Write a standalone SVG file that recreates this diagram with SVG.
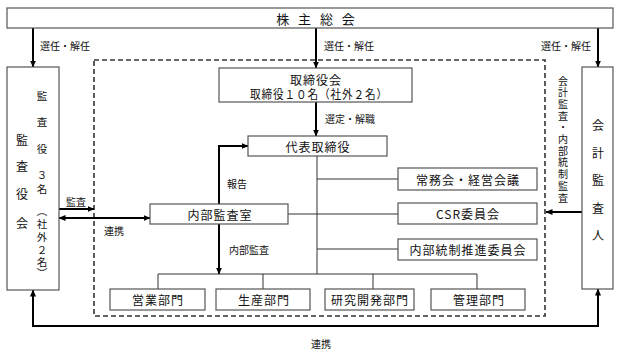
<svg xmlns="http://www.w3.org/2000/svg" width="619" height="358" viewBox="0 0 619 358">
<style>
  text { font-family: "Noto Sans CJK JP", "Noto Sans", sans-serif; fill: #111; dominant-baseline: central; }
  .box { fill: #fff; stroke: #555; stroke-width: 1.2; }
  .t { font-size: 12px; letter-spacing: 1px; text-anchor: middle; }
  .lbl { font-size: 10px; text-anchor: middle; }
  .v { font-size: 12px; text-anchor: middle; }
  .vm { font-size: 10.5px; text-anchor: middle; }
  .vs { font-size: 10px; text-anchor: middle; }
  .thick { fill: none; stroke: #000; stroke-width: 2; }
  .thin { fill: none; stroke: #333; stroke-width: 1; }
  .dash { fill: none; stroke: #333; stroke-width: 1.6; stroke-dasharray: 5 3; }
</style>
<defs>
  <marker id="ah" markerUnits="userSpaceOnUse" markerWidth="7" markerHeight="6" refX="6.5" refY="3" orient="auto-start-reverse">
    <path d="M0,0 L7,3 L0,6 z" fill="#000"/>
  </marker>
</defs>
<rect width="619" height="358" fill="#fff"/>

<g id="internal-area">
  <rect class="dash" x="94" y="60" width="451" height="256"/>
</g>

<g id="connectors">
  <path class="thick" d="M33,28 V67" marker-end="url(#ah)"/>
  <path class="thick" d="M316,28 V68" marker-end="url(#ah)"/>
  <path class="thick" d="M598,28 V67" marker-end="url(#ah)"/>
  <path class="thick" d="M316,102 V136" marker-end="url(#ah)"/>
  <path class="thick" d="M219,204 V146 H248" marker-end="url(#ah)"/>
  <path class="thick" d="M219,224 V274" marker-end="url(#ah)"/>
  <path class="thick" d="M59,209 H94" marker-end="url(#ah)"/>
  <path class="thick" d="M59,218 H150" marker-start="url(#ah)" marker-end="url(#ah)"/>
  <path class="thick" d="M582,212 H546" marker-end="url(#ah)"/>
  <path class="thick" d="M33,290 V326 H598 V289" marker-start="url(#ah)" marker-end="url(#ah)"/>
  <path class="thin" d="M317,156 V274"/>
  <path class="thin" d="M317,179 H398"/>
  <path class="thin" d="M288,214 H398"/>
  <path class="thin" d="M317,249 H398"/>
  <path class="thin" d="M158,274 H477 M158,274 V289 M263,274 V289 M373,274 V289 M477,274 V289"/>
  <text class="lbl" x="65" y="45">選任・解任</text>
  <text class="lbl" x="349" y="45">選任・解任</text>
  <text class="lbl" x="566" y="45">選任・解任</text>
  <text class="lbl" x="350" y="118">選定・解職</text>
  <text class="lbl" x="237" y="183">報告</text>
  <text class="lbl" x="249" y="249">内部監査</text>
  <text class="lbl" x="76" y="201">監査</text>
  <text class="lbl" x="114" y="230">連携</text>
  <text class="lbl" x="321" y="343">連携</text>
  <text class="vs" x="563" y="80">会</text>
  <text class="vs" x="563" y="91.7">計</text>
  <text class="vs" x="563" y="103.4">監</text>
  <text class="vs" x="563" y="115.1">査</text>
  <text class="vs" x="563" y="126.8">・</text>
  <text class="vs" x="563" y="138.5">内</text>
  <text class="vs" x="563" y="150.2">部</text>
  <text class="vs" x="563" y="161.9">統</text>
  <text class="vs" x="563" y="173.6">制</text>
  <text class="vs" x="563" y="185.3">監</text>
  <text class="vs" x="563" y="197">査</text>
</g>

<g id="shareholders">
  <rect class="box" x="7" y="8" width="606" height="20"/>
  <text x="317" y="18" font-size="13" text-anchor="middle" letter-spacing="3">株 主 総 会</text>
</g>

<g id="board">
  <rect class="box" x="219" y="68" width="193" height="34"/>
  <text class="t" x="316" y="79">取締役会</text>
  <text class="t" x="319" y="93" letter-spacing="0" textLength="138" lengthAdjust="spacingAndGlyphs">取締役１０名（社外２名）</text>
</g>

<g id="president">
  <rect class="box" x="248" y="136" width="139" height="20"/>
  <text class="t" x="318" y="146">代表取締役</text>
</g>

<g id="internal-audit">
  <rect class="box" x="150" y="204" width="138" height="20"/>
  <text class="t" x="220" y="214">内部監査室</text>
</g>

<g id="executive-meeting">
  <rect class="box" x="398" y="168" width="139" height="22"/>
  <text class="t" x="468" y="179" letter-spacing="2">常務会・経営会議</text>
</g>

<g id="csr">
  <rect class="box" x="398" y="203" width="139" height="21"/>
  <text class="t" x="468" y="213.5">CSR委員会</text>
</g>

<g id="internal-control">
  <rect class="box" x="398" y="239" width="139" height="21"/>
  <text class="t" x="468" y="249.5">内部統制推進委員会</text>
</g>

<g id="sales">
  <rect class="box" x="110" y="289" width="95" height="21"/>
  <text class="t" x="158" y="299.5">営業部門</text>
</g>
<g id="production">
  <rect class="box" x="216" y="289" width="94" height="21"/>
  <text class="t" x="264" y="299.5">生産部門</text>
</g>
<g id="rnd">
  <rect class="box" x="325" y="289" width="89" height="21"/>
  <text class="t" x="370" y="299.5">研究開発部門</text>
</g>
<g id="admin">
  <rect class="box" x="431" y="289" width="94" height="21"/>
  <text class="t" x="479" y="299.5">管理部門</text>
</g>

<g id="audit-board">
  <rect class="box" x="7" y="67" width="52" height="223"/>
  <text class="v" x="22" y="139">監</text>
  <text class="v" x="22" y="165">査</text>
  <text class="v" x="22" y="193">役</text>
  <text class="v" x="22" y="222">会</text>
  <text class="vm" x="42" y="95">監</text>
  <text class="vm" x="42" y="121">査</text>
  <text class="vm" x="42" y="148">役</text>
  <text class="vm" x="42" y="174">３</text>
  <text class="vm" x="42" y="188">名</text>
  <text class="vm" x="42" y="210">︵</text>
  <text class="vm" x="42" y="223">社</text>
  <text class="vm" x="42" y="236">外</text>
  <text class="vm" x="42" y="249">２</text>
  <text class="vm" x="42" y="261">名</text>
  <text class="vm" x="42" y="272">︶</text>
</g>

<g id="accounting-auditor">
  <rect class="box" x="582" y="67" width="31" height="222"/>
  <text class="v" x="598" y="124">会</text>
  <text class="v" x="598" y="152">計</text>
  <text class="v" x="598" y="179">監</text>
  <text class="v" x="598" y="207">査</text>
  <text class="v" x="598" y="234">人</text>
</g>
</svg>
